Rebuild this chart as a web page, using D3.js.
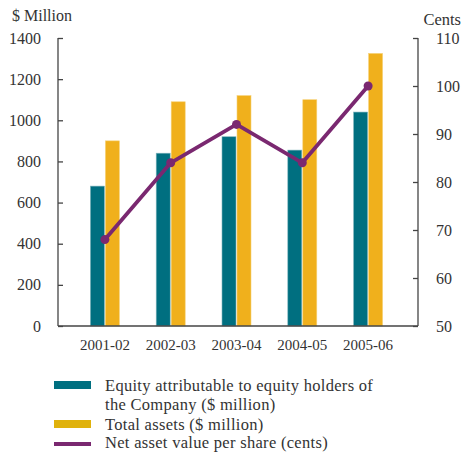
<!DOCTYPE html>
<html>
<head>
<meta charset="utf-8">
<script src="https://cdn.jsdelivr.net/npm/d3@7"></script>
<style>
  body { margin: 0; background: #fff; }
  svg text { font-family: "Liberation Serif", "Times New Roman", serif; fill: #333; }
</style>
</head>
<body>
<svg id="chart" width="463" height="453"></svg>
<script>
// Financial years
const years = ["2001-02", "2002-03", "2003-04", "2004-05", "2005-06"];
// Equity attributable to equity holders of the Company ($ million)
const equity = [680, 840, 920, 855, 1040];
// Total assets ($ million)
const totalAssets = [900, 1090, 1120, 1100, 1325];
// Net asset value per share (cents)
const navCents = [68, 84, 92, 84, 100];
// Axis ticks
const leftTicks = [0, 200, 400, 600, 800, 1000, 1200, 1400];
const rightTicks = [50, 60, 70, 80, 90, 100, 110];

const colors = { equity: "#006f80", assets: "#f0b01c", nav: "#7a2870", axis: "#444" };

const svg = d3.select("#chart");
const plot = { left: 58, right: 418, top: 38, bottom: 326 };

const x = d3.scaleBand().domain(years).range([72, 401]).padding(0);
const yL = d3.scaleLinear().domain([0, 1400]).range([plot.bottom, plot.top]);
const yR = d3.scaleLinear().domain([50, 110]).range([plot.bottom, plot.top]);
const barW = 14;

// Bars
const g = svg.append("g");
years.forEach((yr, i) => {
  const cx = x(yr) + x.bandwidth() / 2;
  g.append("rect")
    .attr("x", cx - barW - 0.5).attr("width", barW)
    .attr("y", yL(equity[i])).attr("height", yL(0) - yL(equity[i]))
    .attr("fill", colors.equity)
    .attr("stroke", "#7fb3bc").attr("stroke-width", 0.6);
  g.append("rect")
    .attr("x", cx + 0.5).attr("width", barW)
    .attr("y", yL(totalAssets[i])).attr("height", yL(0) - yL(totalAssets[i]))
    .attr("fill", colors.assets)
    .attr("stroke", "#f6d27a").attr("stroke-width", 0.6);
});

// Axes
const fontSize = "16px";
const leftAxis = svg.append("g")
  .attr("transform", `translate(${plot.left},0)`)
  .call(d3.axisRight(yL).tickValues(leftTicks).tickSize(5).tickFormat(d3.format("d")));
leftAxis.select(".domain").attr("d", `M0,${plot.top}V${plot.bottom}`);
leftAxis.selectAll("text").attr("x", -17).attr("text-anchor", "end").style("font-size", fontSize);

const rightAxis = svg.append("g")
  .attr("transform", `translate(${plot.right},0)`)
  .call(d3.axisLeft(yR).tickValues(rightTicks).tickSize(5).tickFormat(d3.format("d")));
rightAxis.select(".domain").attr("d", `M0,${plot.top}V${plot.bottom}`);
rightAxis.selectAll("text").attr("x", 18).attr("text-anchor", "start").style("font-size", fontSize);

[leftAxis, rightAxis].forEach(a => {
  a.selectAll(".domain").attr("stroke", colors.axis).attr("stroke-width", 1.3);
  a.selectAll(".tick line").attr("stroke", colors.axis).attr("stroke-width", 1.3);
  a.selectAll("text").attr("fill", "#333");
});

const bottomAxis = svg.append("g")
  .attr("transform", `translate(0,${plot.bottom})`)
  .call(d3.axisBottom(x).tickSize(0).tickPadding(13));
bottomAxis.select(".domain").attr("d", `M${plot.left},0H${plot.right}`)
  .attr("stroke", colors.axis).attr("stroke-width", 1.5);
bottomAxis.selectAll("text").style("font-size", "15px").attr("fill", "#333");

// Axis titles
svg.append("text").attr("x", 12).attr("y", 21).style("font-size", fontSize).text("$ Million");
svg.append("text").attr("x", 461).attr("y", 25).attr("text-anchor", "end").style("font-size", "16.5px").text("Cents");

// NAV line
const line = d3.line()
  .x((d, i) => x(years[i]) + x.bandwidth() / 2)
  .y(d => yR(d));
svg.append("path").datum(navCents)
  .attr("d", line).attr("fill", "none")
  .attr("stroke", colors.nav).attr("stroke-width", 3.8).attr("stroke-linejoin", "round");
svg.selectAll(".dot").data(navCents).enter().append("circle")
  .attr("cx", (d, i) => x(years[i]) + x.bandwidth() / 2)
  .attr("cy", d => yR(d)).attr("r", 4.5).attr("fill", colors.nav);

// Legend
const legend = svg.append("g");
legend.append("rect").attr("x", 54).attr("y", 381).attr("width", 37).attr("height", 8).attr("fill", colors.equity);
legend.append("rect").attr("x", 54).attr("y", 420).attr("width", 37).attr("height", 8).attr("fill", "#e0b20c");
legend.append("rect").attr("x", 54).attr("y", 442).attr("width", 37).attr("height", 4).attr("fill", colors.nav);
const legendText = [
  ["Equity attributable to equity holders of", 391],
  ["the Company ($ million)", 410],
  ["Total assets ($ million)", 429.5],
  ["Net asset value per share (cents)", 448]
];
legend.selectAll("text.lg").data(legendText).enter().append("text")
  .attr("class", "lg").attr("x", 105).attr("y", d => d[1])
  .style("font-size", "16.5px").style("letter-spacing", "0.3px").text(d => d[0]);
</script>
</body>
</html>
